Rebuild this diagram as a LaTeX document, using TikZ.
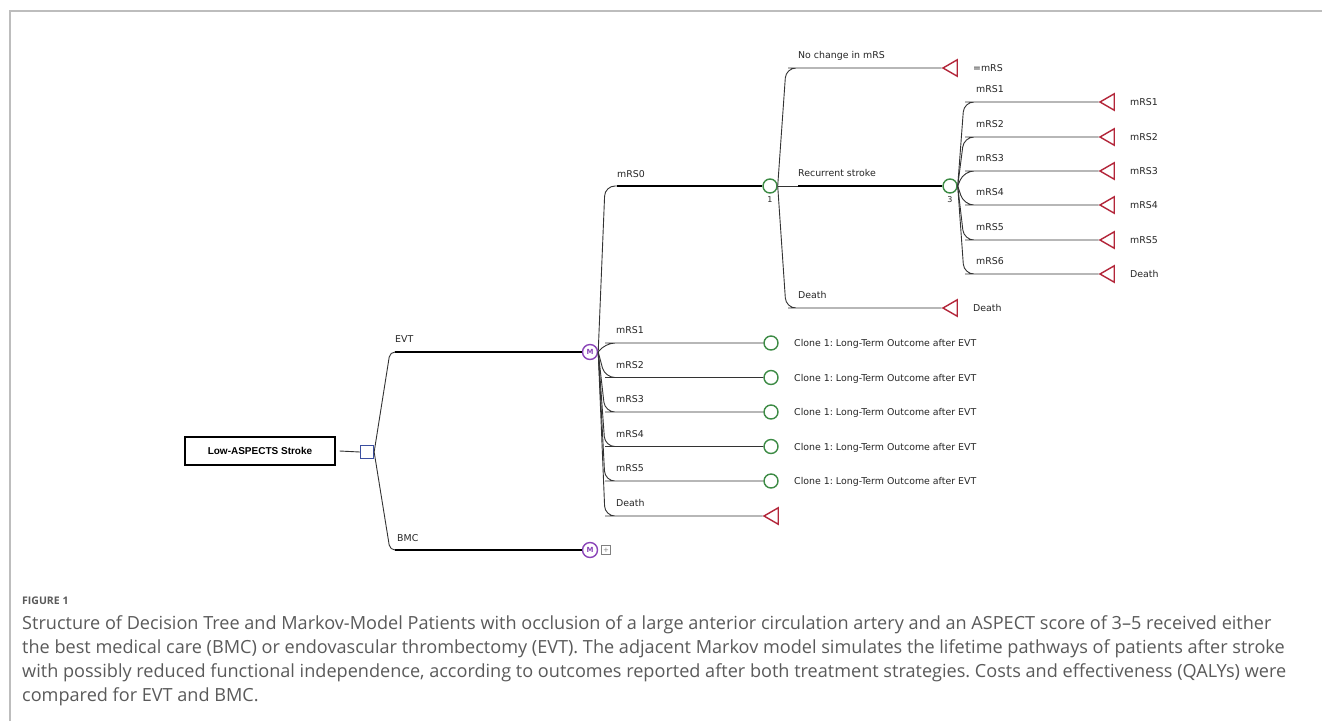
\documentclass[tikz,border=0pt]{standalone}
\usepackage{fontspec}
\setmainfont{DejaVu Sans}
\newfontfamily\capfont{Open Sans}
\newfontfamily\boxfont{Liberation Sans}
\usetikzlibrary{shapes.geometric,calc}
\frenchspacing
\definecolor{trired}{HTML}{B3263A}
\definecolor{chgreen}{HTML}{3D8B45}
\definecolor{decblue}{HTML}{3B4FA0}
\definecolor{mpurple}{HTML}{8A44B8}
\definecolor{linegray}{HTML}{333333}
\definecolor{capgray}{HTML}{5A5A5A}
\definecolor{framegray}{HTML}{BDBDBD}
\tikzset{
  br/.style={draw=linegray, line width=0.9pt, rounded corners=10pt},
  opt/.style={draw=black, line width=2.4pt},
  lbl/.style={anchor=base west, inner sep=0, font=\fontsize{9.4}{11}\selectfont, text=black!85},
  chance/.style={circle, draw=chgreen, line width=1.4pt, minimum size=14pt, inner sep=0},
  term/.style={regular polygon, regular polygon sides=3, shape border rotate=90, draw=trired, line width=1.4pt, minimum size=19pt, inner sep=0},
  markov/.style={circle, draw=mpurple, line width=1.4pt, minimum size=15pt, inner sep=0, font=\bfseries\fontsize{7}{7}\selectfont, text=mpurple},
  numlbl/.style={inner sep=0, font=\fontsize{8}{8}\selectfont, text=black!85},
  captxt/.style={anchor=base west, inner sep=0, font=\capfont\fontsize{18.1}{20}\selectfont, text=capgray}
}
\begin{document}
\begin{tikzpicture}[x=1pt,y=-1pt]
\useasboundingbox (0,0) rectangle (1322,721);
\fill[white] (0,0) rectangle (1322,721);
\draw[framegray, line width=1.5pt] (10,721) -- (10,11) -- (1322,11);

% root and decision
\node[draw, line width=1.3pt, minimum width=150pt, minimum height=28pt, inner sep=0, font=\boxfont\bfseries\fontsize{10}{12}\selectfont] (root) at (260,451) {Low-ASPECTS Stroke};
\node[draw=decblue, line width=1.3pt, minimum size=13pt, inner sep=0] (dec) at (367,452) {};
\draw[br] ([xshift=4pt]root.east) -- (dec.west);

% EVT / BMC
\coordinate (hEVT) at (395,352);
\coordinate (hBMC) at (395,550);
\node[markov] (mEVT) at (590,352) {M};
\node[markov] (mBMC) at (590,550) {M};
\node[draw=gray, line width=0.6pt, minimum size=9pt, inner sep=0, font=\fontsize{7}{7}\selectfont, text=gray] (plus) at (606,550) {+};
\draw[br, rounded corners=5pt] (dec.east) -- ([xshift=-5pt]hEVT) -- (hEVT);
\draw[br, rounded corners=5pt] (dec.east) -- ([xshift=-5pt]hBMC) -- (hBMC);
\draw[opt] (hEVT) -- (mEVT.west);
\draw[opt] (hBMC) -- (mBMC.west);
\node[lbl] (lEVT) at (395,342) {EVT};
\node[lbl] (lBMC) at (397,541) {BMC};

% mRS0 branch
\coordinate (h0) at (617,186);
\node[chance] (c1) at (770,186) {};
\node[numlbl] (n1) at (770,200) {1};
\draw[br] (mEVT.east) -- ([xshift=-12pt]h0) -- (h0);
\draw[opt] (h0) -- (c1.west);
\node[lbl] (l0) at (617,177) {mRS0};

% clone branches
\foreach \i/\yy in {1/343,2/377.5,3/412,4/446.5,5/481}{
  \coordinate (hc\i) at (615,\yy);
  \node[chance] (cc\i) at (771,\yy) {};
  \draw[br] (mEVT.east) -- ([xshift=-10pt]hc\i) -- (hc\i) -- (cc\i.west);
  \node[lbl] (lc\i) at (616,\yy-9.5) {mRS\i};
  \node[lbl] (rc\i) at (794,\yy+3.5) {Clone 1: Long-Term Outcome after EVT};
}
\coordinate (hcd) at (615,516);
\node[term] (tcd) at (773.5,516) {};
\draw[br] (mEVT.east) -- ([xshift=-10pt]hcd) -- (hcd) -- (tcd.corner 1);
\node[lbl] (lcd) at (616,506.5) {Death};

% node 1 branches
\coordinate (hNC) at (798,68);
\node[term] (tNC) at (952.5,68) {};
\draw[br] (c1.east) -- ([xshift=-12pt]hNC) -- (hNC) -- (tNC.corner 1);
\node[lbl] (lNC) at (798,58.5) {No change in mRS};
\node[lbl] (rNC) at (973,71.5) {=mRS};

\coordinate (hRS) at (798,186);
\node[chance] (c3) at (950,186) {};
\node[numlbl] (n3) at (950,200) {3};
\draw[br] (c1.east) -- (hRS);
\draw[opt] (hRS) -- (c3.west);
\node[lbl] (lRS) at (798,176.5) {Recurrent stroke};

\coordinate (hD1) at (798,308);
\node[term] (tD1) at (952.5,308) {};
\draw[br] (c1.east) -- ([xshift=-12pt]hD1) -- (hD1) -- (tD1.corner 1);
\node[lbl] (lD1) at (798,298.5) {Death};
\node[lbl] (rD1) at (973,311.5) {Death};

% node 3 branches
\foreach \i/\yy/\rt in {1/102/mRS1,2/137/mRS2,3/171/mRS3,4/205/mRS4,5/240/mRS5,6/274/Death}{
  \coordinate (hs\i) at (975,\yy);
  \node[term] (ts\i) at (1109.5,\yy) {};
  \draw[br] (c3.east) -- ([xshift=-11pt]hs\i) -- (hs\i) -- (ts\i.corner 1);
  \node[lbl] (ls\i) at (976,\yy-9.5) {mRS\i};
  \node[lbl] (rs\i) at (1130,\yy+3.5) {\rt};
}

% caption
\node[anchor=base west, inner sep=0, font=\capfont\bfseries\fontsize{10.5}{12}\selectfont, text=capgray] (fig) at (22,604) {FIGURE 1};
\node[captxt] (cap1) at (22,629) {Structure of Decision Tree and Markov-Model Patients with occlusion of a large anterior circulation artery and an ASPECT score of 3–5 received either};
\node[captxt] (cap2) at (22,653) {the best medical care (BMC) or endovascular thrombectomy (EVT). The adjacent Markov model simulates the lifetime pathways of patients after stroke};
\node[captxt] (cap3) at (22,677) {with possibly reduced functional independence, according to outcomes reported after both treatment strategies. Costs and effectiveness (QALYs) were};
\node[captxt] (cap4) at (22,701) {compared for EVT and BMC.};
\end{tikzpicture}
\end{document}
